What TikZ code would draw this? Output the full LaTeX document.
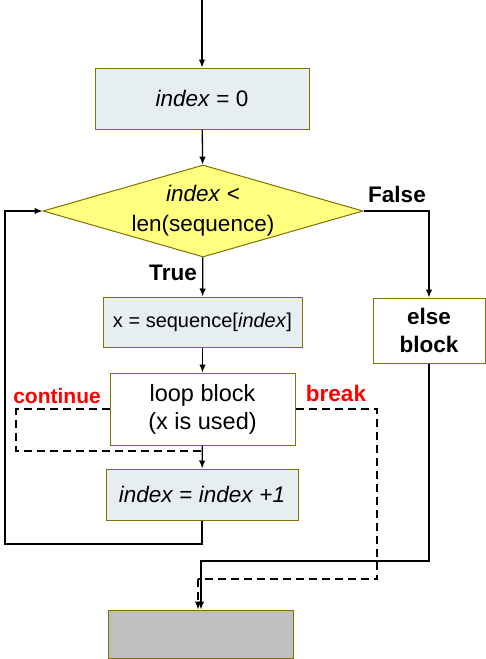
\documentclass[tikz,border=0pt]{standalone}
\usepackage{fontspec}
\setmainfont{Liberation Sans}
\usetikzlibrary{shapes.geometric,arrows.meta}
\definecolor{olive}{RGB}{128,112,0}
\definecolor{boxblue}{RGB}{230,238,242}
\definecolor{testyellow}{RGB}{255,255,128}
\definecolor{endgray}{RGB}{191,191,191}
\definecolor{loopred}{RGB}{255,0,0}

\tikzset{
  stepbox/.style={draw=olive, line width=1pt, fill=boxblue, inner sep=0pt,
    align=center, font=\fontsize{22.5}{28}\selectfont},
  plainbox/.style={stepbox, fill=white},
  testbox/.style={diamond, draw=olive, line width=1pt, fill=testyellow,
    aspect=3.48, inner sep=0pt, minimum width=320pt, minimum height=92pt,
    align=center, font=\fontsize{22.5}{30}\selectfont},
  flow/.style={line width=1.3pt, -{Latex[length=8pt,width=6.5pt]}},
  jump/.style={line width=1.3pt, dash pattern=on 8pt off 5pt},
  branch/.style={font=\bfseries\fontsize{22.5}{26}\selectfont},
  jumplabel/.style={branch, text=loopred}
}

\begin{document}
\begin{tikzpicture}[x=1pt,y=-1pt]
    \useasboundingbox (0,0) rectangle (486,659);

    % Boxes
    \node[stepbox, minimum width=214pt, minimum height=61pt] (init) at (202,98.5) {\textit{index} = 0};
    \node[testbox] (test) at (203,211) {\textit{index} <\\len(sequence)};
    \node[stepbox, minimum width=199pt, minimum height=50pt,
          font=\fontsize{20}{24}\selectfont] (assign) at (202.5,322) {x = sequence[\textit{index}]};
    \node[plainbox, minimum width=185pt, minimum height=72pt,
          font=\fontsize{23.5}{28}\selectfont] (body) at (202.5,409) {loop block\\(x is used)};
    \node[stepbox, minimum width=192pt, minimum height=51pt] (incr) at (202,494.5) {\textit{index} = \textit{index} +\textit{1}};
    \node[plainbox, branch, minimum width=112pt, minimum height=65pt,
          font=\bfseries\fontsize{22.5}{28}\selectfont] (elseblk) at (429,330.5) {else\\block};
    \node[stepbox, fill=endgray, minimum width=185pt, minimum height=48pt] (final) at (201,634) {};

    % Labels
    \node[branch] (falselbl) at (397,194) {False};
    \node[branch] (truelbl) at (173,273) {True};
    \node[jumplabel, font=\bfseries\fontsize{21}{26}\selectfont] (contlbl) at (57,396) {continue};
    \node[jumplabel] (breaklbl) at (336,393) {break};

    % Helper points
    \coordinate (start) at (init.north |- 0,0);
    \coordinate (backL) at (5,544);
    \coordinate (merge) at (201,561);
    \coordinate (contL) at (16,451);
    \coordinate (contEnd) at (body.south |- 0,451);
    \coordinate (breakR) at (377,409);
    \coordinate (breakB) at (198,579);

    % Main flow
    \draw[flow] (start) -- (init);
    \draw[flow] (init) -- (test);
    \draw[flow] (test) -- (assign);
    \draw[flow] (assign) -- (body);
    \draw[flow] (body) -- (incr);
    \draw[flow] (incr.south) |- (backL) |- (test.west);
    \draw[flow] (test.east) -| (elseblk.north);
    \draw[flow] (elseblk.south) |- (merge) -- (final.north);

    % continue / break
    \draw[jump] (body.west) -| (contL) -- (contEnd);
    \draw[jump] (body.east) -- (breakR) |- (breakB);
    \draw[jump, -{Latex[length=8pt,width=6.5pt]}] (breakB) -- (breakB |- final.north);

\end{tikzpicture}
\end{document}
